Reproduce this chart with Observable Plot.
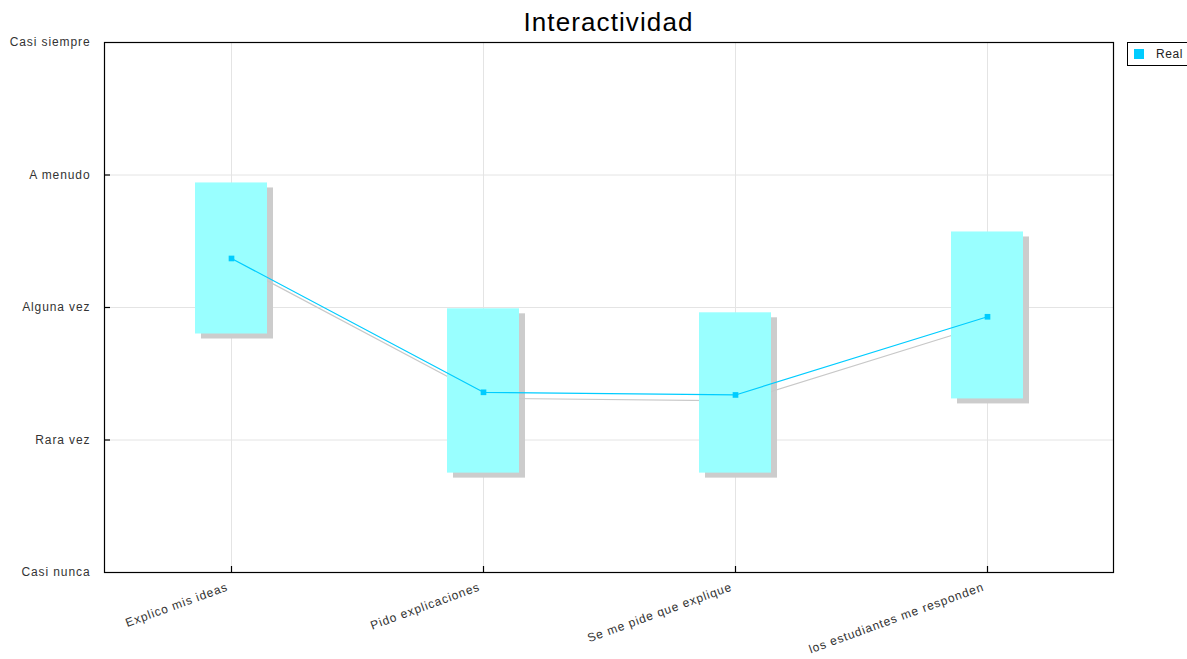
<!DOCTYPE html>
<html>
<head>
<meta charset="utf-8">
<script src="https://cdn.jsdelivr.net/npm/d3@7"></script>
<script src="https://cdn.jsdelivr.net/npm/@observablehq/plot@0.6"></script>
<style>
  html, body { margin: 0; padding: 0; background: #fff; overflow: hidden; }
  #wrap { position: relative; width: 1187px; height: 659px; overflow: hidden; font-family: "Liberation Sans", Arial, sans-serif; }
  #title { position: absolute; left: 104px; width: 1009px; top: 7px; text-align: center; font-size: 26px; letter-spacing: 1.1px; color: #000; }
  #legend { position: absolute; left: 1127px; top: 42px; width: 80px; height: 22px; border: 1px solid #000; background: #fff; }
  #legend .sw { position: absolute; left: 6px; top: 6px; width: 10px; height: 10px; background: #00ccff; }
  #legend .lb { position: absolute; left: 28px; top: 4px; font-size: 12px; letter-spacing: 0.6px; color: #222; }
  svg text { letter-spacing: 0.9px; }
</style>
</head>
<body>
<div id="wrap">
  <div id="chart"></div>
  <div id="title">Interactividad</div>
  <div id="legend"><div class="sw"></div><div class="lb">Real</div></div>
</div>
<script>
const categories = ["Explico mis ideas", "Pido explicaciones", "Se me pide que explique", "los estudiantes me responden"];
const levels = ["Casi nunca", "Rara vez", "Alguna vez", "A menudo", "Casi siempre"];
const means = [2.37, 1.36, 1.34, 1.93];
const lows = [1.80, 0.75, 0.75, 1.31];
const highs = [2.94, 1.99, 1.96, 2.57];

const data = categories.map((c, i) => ({cat: c, mean: means[i], low: lows[i], high: highs[i]}));

const chart = Plot.plot({
  width: 1187,
  height: 659,
  marginLeft: 104,
  marginRight: 74,
  marginTop: 42,
  marginBottom: 87,
  style: {fontFamily: "'Liberation Sans', Arial, sans-serif", fontSize: "12px", color: "#333", background: "#fff"},
  x: {type: "band", domain: categories, paddingInner: 0.7146, paddingOuter: 0.3573, label: null},
  y: {domain: [0, 4], label: null},
  marks: [
    Plot.gridX(categories, {stroke: "#e4e4e4", strokeOpacity: 1}),
    Plot.gridY([0, 1, 2, 3, 4], {stroke: "#e4e4e4", strokeOpacity: 1}),
    Plot.barY(data, {x: "cat", y1: "low", y2: "high", fill: "#cccccc", dx: 6, dy: 5}),
    Plot.line(data, {x: "cat", y: "mean", stroke: "#c8c8c8", strokeWidth: 1.2, dx: 5, dy: 6}),
    Plot.barY(data, {x: "cat", y1: "low", y2: "high", fill: "#99ffff"}),
    Plot.line(data, {x: "cat", y: "mean", stroke: "#00ccff", strokeWidth: 1.2}),
    Plot.dot(data, {x: "cat", y: "mean", symbol: "square", r: 3.2, fill: "#00ccff"}),
    Plot.axisY([0, 1, 2, 3, 4], {tickSize: 0, tickPadding: 14, tickFormat: d => levels[d], label: null, fill: "#333"}),
    Plot.axisX({tickSize: 0, tickRotate: -20, tickPadding: 14, dx: -4, label: null, fill: "#333"}),
    Plot.tickX(categories, {x: d => d, stroke: "#000", strokeWidth: 1.2, insetTop: 524}),
    Plot.tickY([1, 2, 3], {y: d => d, stroke: "#000", strokeWidth: 1.2, insetRight: 1003}),
    Plot.frame({stroke: "#000", strokeWidth: 1.2})
  ]
});
document.getElementById("chart").appendChild(chart);
</script>
</body>
</html>
